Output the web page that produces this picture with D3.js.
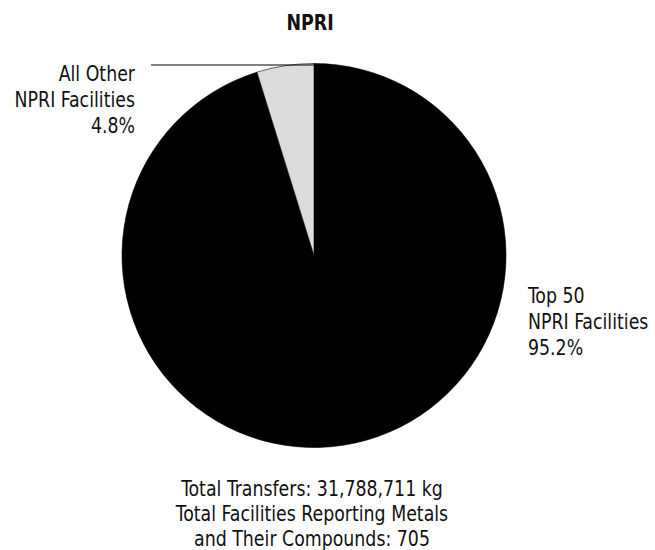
<!DOCTYPE html>
<html>
<head>
<meta charset="utf-8">
<script src="https://cdn.jsdelivr.net/npm/d3@7"></script>
<style>
  html, body { margin: 0; padding: 0; background: #fff; }
  svg text { font-family: "DejaVu Sans Condensed", "DejaVu Sans", sans-serif; font-stretch: condensed; fill: #111; }
</style>
</head>
<body>
<svg id="chart" width="655" height="550"></svg>
<script>
const title = "NPRI";
const categories = ["Top 50 NPRI Facilities", "All Other NPRI Facilities"];
const shares = [95.2, 4.8];
const sliceColors = ["#000000", "#dcdcdc"];
const labelLines = [
  ["Top 50", "NPRI Facilities", "95.2%"],
  ["All Other", "NPRI Facilities", "4.8%"]
];
const footerLines = [
  "Total Transfers: 31,788,711 kg",
  "Total Facilities Reporting Metals",
  "and Their Compounds: 705"
];

const svg = d3.select("#chart");
const cx = 314, cy = 255.5, r = 192;
const sx = 0.92;   // horizontal squeeze to imitate a condensed face

svg.append("g").attr("transform", "translate(310,30) scale(0.88,1)")
  .append("text")
  .attr("text-anchor", "middle")
  .style("font-weight", "bold")
  .style("font-size", "22px")
  .text(title);

const data = categories.map((c, i) => ({ name: c, value: shares[i], color: sliceColors[i] }));
const pie = d3.pie().sort(null).value(d => d.value);
const arc = d3.arc().innerRadius(0).outerRadius(r);
const arcs = pie(data);

const g = svg.append("g").attr("transform", `translate(${cx},${cy})`);
g.selectAll("path").data(arcs).join("path")
  .attr("d", arc)
  .attr("fill", d => d.data.color)
  .attr("stroke", "#000")
  .attr("stroke-width", 0.6);

// leader line for the small slice
svg.append("line")
  .attr("x1", 151).attr("x2", cx)
  .attr("y1", 65).attr("y2", 65)
  .attr("stroke", "#000").attr("stroke-width", 1);

const fs = "21px";
function block(x, y, anchor, lines, lh) {
  const t = svg.append("g").attr("transform", `translate(${x},${y}) scale(${sx},1)`)
    .append("text").attr("text-anchor", anchor).style("font-size", fs);
  t.selectAll("tspan").data(lines).join("tspan")
    .attr("x", 0).attr("dy", (d, i) => i === 0 ? 0 : lh).text(d => d);
}
block(528, 303, "start", labelLines[0], 26);
block(135, 81, "end", labelLines[1], 26);
block(312, 496, "middle", footerLines, 25);
</script>
</body>
</html>
